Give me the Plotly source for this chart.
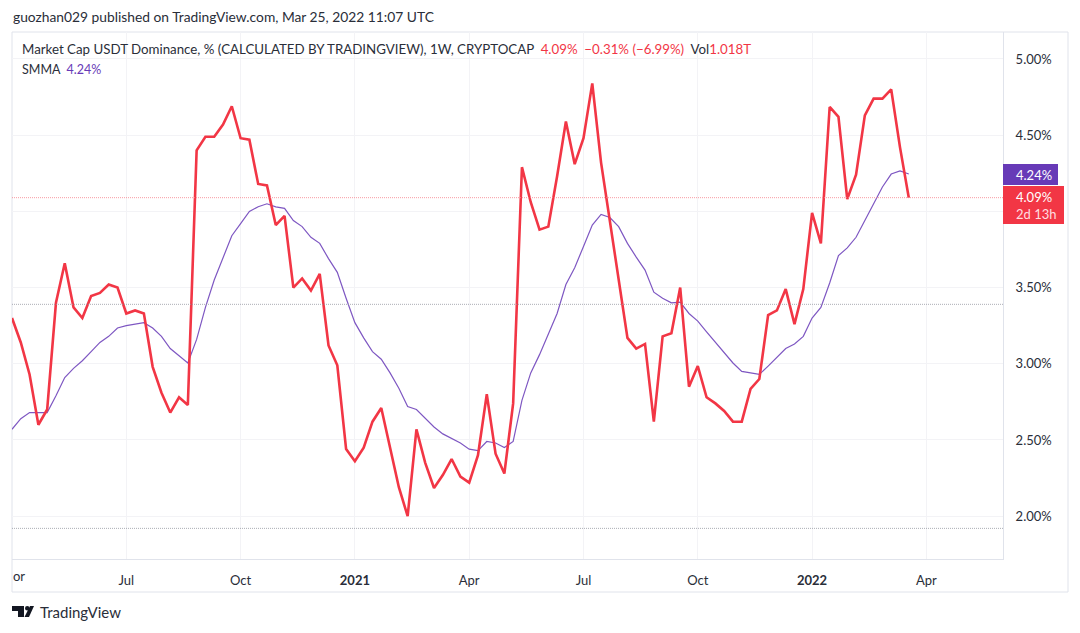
import pandas as pd
import plotly.graph_objects as go

W, H = 1080, 633
PL, PR, PT, PB = 12, 1003, 32, 559

dominance = [3.30,3.14,2.93,2.60,2.70,3.40,3.66,3.37,3.30,3.445,3.465,3.52,3.50,3.33,3.35,3.33,2.98,2.81,2.68,2.78,2.73,
    4.40,4.49,4.49,4.57,4.69,4.48,4.47,4.18,4.17,3.91,3.97,3.50,3.56,3.48,3.59,3.12,2.99,2.44,2.36,2.45,2.62,2.71,2.45,2.19,2.00,
    2.57,2.35,2.185,2.27,2.375,2.26,2.22,2.40,2.80,2.41,2.28,2.74,4.29,4.06,3.88,3.90,4.23,4.59,4.31,4.48,4.84,4.32,3.93,3.56,
    3.17,3.10,3.13,2.62,3.18,3.20,3.50,2.85,2.985,2.78,2.74,2.69,2.62,2.62,2.835,2.90,3.32,3.35,3.49,3.26,3.49,3.99,3.79,
    4.685,4.62,4.08,4.24,4.63,4.74,4.74,4.80,4.42,4.09]
smma = [2.57,2.64,2.68,2.68,2.68,2.79,2.91,2.97,3.02,3.08,3.14,3.18,3.235,3.25,3.26,3.27,3.235,3.18,3.10,3.05,3.005,
    3.16,3.37,3.55,3.69,3.84,3.92,4.00,4.03,4.05,4.03,4.02,3.94,3.90,3.83,3.79,3.69,3.60,3.43,3.27,3.17,3.08,3.03,2.94,2.84,2.72,
    2.70,2.64,2.585,2.54,2.51,2.48,2.44,2.43,2.49,2.48,2.45,2.49,2.76,2.94,3.06,3.19,3.33,3.52,3.63,3.77,3.91,3.98,3.96,3.90,
    3.79,3.70,3.615,3.47,3.43,3.40,3.405,3.33,3.28,3.21,3.14,3.07,3.005,2.95,2.94,2.93,2.985,3.045,3.10,3.13,3.18,3.30,3.37,
    3.53,3.71,3.76,3.83,3.94,4.055,4.16,4.245,4.265,4.245]
weeks = pd.date_range("2020-04-06", periods=len(dominance), freq="W-MON")

price_ticks = [2.0, 2.5, 3.0, 3.5, 4.0, 4.5, 5.0]
price_labels = ["2.00%", "2.50%", "3.00%", "3.50%", "", "4.50%", "5.00%"]
time_ticks = ["2020-07-06", "2020-10-05", "2021-01-04", "2021-04-05", "2021-07-05", "2021-10-04", "2022-01-03", "2022-04-04"]
time_labels = ["Jul", "Oct", "<b>2021</b>", "Apr", "Jul", "Oct", "<b>2022</b>", "Apr"]
level_lines = [3.39, 1.92]
last_close = dominance[-1]
last_smma = 4.24

RED, PURPLE, TAG_PURPLE = "#f23645", "#7e57c2", "#673ab7"
INK, FRAME, GRID = "#2a2e39", "#e0e3eb", "#f3f3f6"
FONT = "Lato"

def px(x): return (x - PL) / (PR - PL)
def py(y): return (PB - y) / (PB - PT)

def text(x, y, s, size=13, color=INK, anchor="left", font=FONT):
    return dict(xref="paper", yref="paper", x=px(x), y=py(y), text=s, showarrow=False,
                xanchor=anchor, yanchor="middle", align="left", borderpad=0,
                font=dict(family=font, size=size, color=color))

def rect(x0, y0, x1, y1, **kw):
    return dict(type="rect", xref="paper", yref="paper", x0=px(x0), x1=px(x1), y0=py(y0), y1=py(y1), **kw)

def pth(points):
    return "M" + " L".join(f"{px(a):.5f},{py(b):.5f}" for a, b in points) + " Z"

fig = go.Figure()
fig.add_trace(go.Scatter(x=weeks, y=smma, mode="lines", line=dict(color=PURPLE, width=1.2), hoverinfo="skip"))
fig.add_trace(go.Scatter(x=weeks, y=dominance, mode="lines", line=dict(color=RED, width=2.6), hoverinfo="skip"))

shapes = [rect(PL, PT, 1068, 592, line=dict(color=FRAME, width=1), fillcolor="rgba(0,0,0,0)", layer="below")]
for lv in level_lines:
    shapes.append(dict(type="line", xref="paper", yref="y", x0=0, x1=1, y0=lv, y1=lv,
                       line=dict(color="#9598a1", width=0.8, dash="1px,1px")))
shapes.append(dict(type="line", xref="paper", yref="y", x0=0, x1=1, y0=last_close, y1=last_close,
                   line=dict(color="#f6838d", width=0.8, dash="1px,1px")))
shapes.append(rect(1003, 164, 1058, 185, fillcolor=TAG_PURPLE, line=dict(width=0)))
shapes.append(rect(1003, 186, 1064, 224, fillcolor=RED, line=dict(width=0)))
# TradingView logo
shapes.append(dict(type="path", xref="paper", yref="paper", fillcolor="#131722", line=dict(width=0),
                   path=pth([(12, 606), (24, 606), (24, 617), (18, 617), (18, 611), (12, 611)])))
shapes.append(dict(type="path", xref="paper", yref="paper", fillcolor="#131722", line=dict(width=0),
                   path=pth([(30, 606), (34, 606), (29, 617), (24.5, 617)])))
shapes.append(dict(type="circle", xref="paper", yref="paper", fillcolor="#131722", line=dict(width=0),
                   x0=px(25), x1=px(29.5), y0=py(606), y1=py(610.5)))

header = (f"Market Cap USDT Dominance, % (CALCULATED BY TRADINGVIEW), 1W, CRYPTOCAP"
          f"  <span style='color:{RED}'>4.09%  −0.31% (−6.99%)</span>"
          f"  Vol<span style='color:{RED}'>1.018T</span>")

annotations = [
    text(12, 17, "guozhan029 published on TradingView.com, Mar 25, 2022 11:07 UTC", 13.8),
    text(21, 49, header, 13.3),
    text(21, 69, f"SMMA  <span style='color:{TAG_PURPLE}'>4.24%</span>", 12.5),
    text(1015, 174.5, "4.24%", 13, "#ffffff"),
    text(1015, 197, "4.09%", 13, "#ffffff"),
    text(1015, 214, "2d 13h", 13, "#ffdde0"),
    text(12, 576, "or", 13),
    text(39, 612, "TradingView", 15, "#2a2e39"),
]

fig.update_layout(
    width=W, height=H, autosize=False, showlegend=False,
    margin=dict(l=PL, r=W - PR, t=PT, b=H - PB, pad=0),
    paper_bgcolor="#ffffff", plot_bgcolor="#ffffff",
    font=dict(family=FONT, size=13, color=INK),
    shapes=shapes, annotations=annotations,
    xaxis=dict(type="date", range=["2020-04-06", "2022-06-04"], tickmode="array",
               tickvals=time_ticks, ticktext=time_labels, showgrid=True, gridcolor=GRID, gridwidth=1,
               zeroline=False, showline=True, linecolor=FRAME, linewidth=1, ticks="outside", ticklen=9,
               tickcolor="rgba(0,0,0,0)", tickangle=0, tickfont=dict(family=FONT, size=13, color=INK)),
    yaxis=dict(range=[1.719, 5.177], side="right", tickmode="array", tickvals=price_ticks, ticktext=price_labels,
               showgrid=True, gridcolor=GRID, gridwidth=1, zeroline=False, showline=True, linecolor=FRAME,
               linewidth=1, ticks="outside", ticklen=9, tickcolor="rgba(0,0,0,0)",
               tickfont=dict(family=FONT, size=13, color=INK)),
)
fig.write_html("out.html", config=dict(displayModeBar=False),
               post_script="document.body.style.margin='0';")
